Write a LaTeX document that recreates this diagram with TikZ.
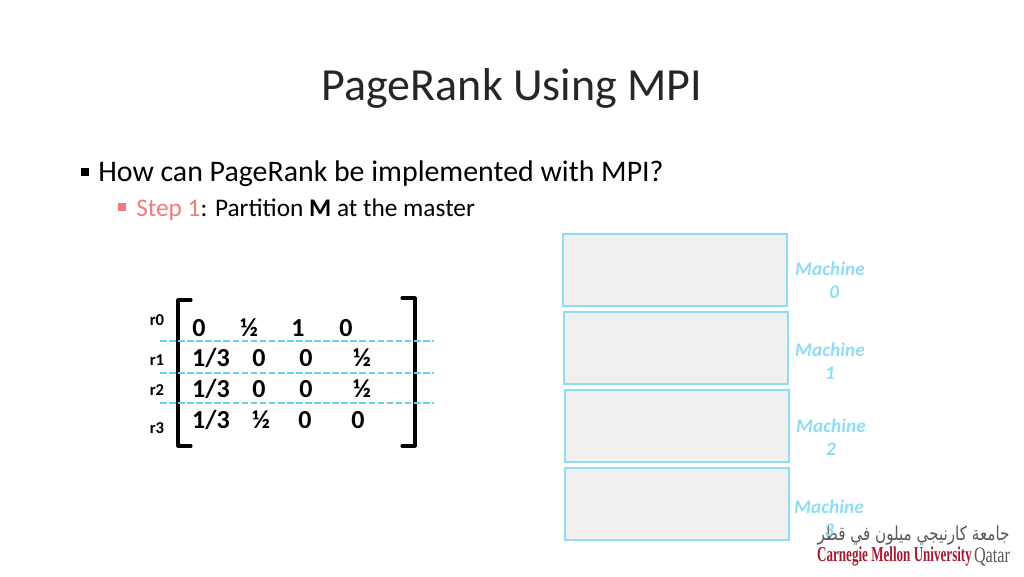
\documentclass[tikz,border=0pt]{standalone}
\usepackage{fontspec}
\setmainfont{Carlito}
\newfontfamily\logofont{Liberation Serif}
\newfontfamily\arabicfont[Script=Arabic]{DejaVu Sans}
\TeXXeTstate=1
\definecolor{skyline}{HTML}{8FDDF5}
\definecolor{dashsky}{HTML}{66D3F0}
\definecolor{boxgray}{HTML}{F0F0F0}
\definecolor{stepred}{HTML}{EE7B7F}
\definecolor{logored}{HTML}{A6192E}
\begin{document}
\begin{tikzpicture}[x=0.75pt,y=-0.75pt,
  txt/.style={inner sep=0pt,anchor=base west},
  entry/.style={inner sep=0pt,font=\fontsize{19.5}{19.5}\selectfont\bfseries},
  rowlab/.style={inner sep=0pt,font=\fontsize{12.5}{12.5}\selectfont\bfseries},
  machine/.style={draw=skyline,fill=boxgray,line width=0.9pt,minimum width=168pt,minimum height=54pt,inner sep=0pt},
  machlab/.style={inner sep=0pt,text=skyline,align=center,font=\fontsize{14.5}{17.3}\selectfont\bfseries\itshape},
  bracket/.style={line width=2.3pt,line cap=round,line join=round},
  cut/.style={dashsky,line width=1.6pt,dash pattern=on 5pt off 1.8pt}]
\useasboundingbox (0,0) rectangle (1024,576);
\node(title) at (512,88) [inner sep=0pt,text=black!85,font=\fontsize{34.5}{34.5}\selectfont] {PageRank Using MPI};
\node(b1) at (85,172) [fill=black,minimum size=6.4pt,inner sep=0pt] {};
\node(t1) at (98,181.5) [txt,font=\fontsize{22.4}{22.4}\selectfont] {How can PageRank be implemented with MPI?};
\node(b2) at (122,207) [fill=stepred,minimum size=6pt,inner sep=0pt] {};
\node(t2) at (136,216) [txt,font=\fontsize{19}{19}\selectfont] {\textcolor{stepred}{Step 1}: Partition \textbf{M} at the master};

\node(arab) at (913.5,536) [inner sep=0pt,text=black!65] {\resizebox{144pt}{11pt}{\arabicfont\beginR جامعة كارنيجي ميلون في قطر\endR}};
\node(cmu) at (894.5,556.5) [inner sep=0pt,text=logored] {\resizebox{116pt}{11pt}{\logofont\bfseries Carnegie Mellon University}};
\node(qatar) at (992,556.5) [inner sep=0pt,text=black!65] {\resizebox{27pt}{11pt}{\logofont Qatar}};

\node(m0) at (675,270) [machine] {};
\node(m1) at (676,348) [machine] {};
\node(m2) at (677,426) [machine] {};
\node(m3) at (677,504) [machine] {};
\node(l0) at (830,280) [machlab] {Machine\\\ \ 0};
\node(l1) at (830,361) [machlab] {Machine\\1};
\node(l2) at (831,437) [machlab] {Machine\\2};
\node(l3) at (829,518) [machlab] {Machine\\3};

\coordinate(la) at (191,300); \coordinate(lb) at (178,300); \coordinate(lc) at (178,446); \coordinate(ld) at (191,446);
\coordinate(ra) at (402,298); \coordinate(rb) at (415,298); \coordinate(rc) at (415,446); \coordinate(rd) at (402,446);
\draw[bracket] (la) -- (lb) -- (lc) -- (ld);
\draw[bracket] (ra) -- (rb) -- (rc) -- (rd);

\node(r0) at (157,320) [rowlab] {r0};
\node(r1) at (157,360) [rowlab] {r1};
\node(r2) at (157,390) [rowlab] {r2};
\node(r3) at (157,428) [rowlab] {r3};

\node(a00) at (199,328) [entry] {0}; \node(a01) at (249,328) [entry] {½}; \node(a02) at (298,328) [entry] {1}; \node(a03) at (346,328) [entry] {0};
\node(a10) at (211,358) [entry] {1/3}; \node(a11) at (259,358) [entry] {0}; \node(a12) at (306,358) [entry] {0}; \node(a13) at (362,358) [entry] {½};
\node(a20) at (211,389) [entry] {1/3}; \node(a21) at (259,389) [entry] {0}; \node(a22) at (306,389) [entry] {0}; \node(a23) at (362,389) [entry] {½};
\node(a30) at (211,420) [entry] {1/3}; \node(a31) at (261,420) [entry] {½}; \node(a32) at (305,420) [entry] {0}; \node(a33) at (358,420) [entry] {0};

\foreach \i/\y in {0/341,1/373,2/403}{
  \coordinate(s\i) at (160,\y); \coordinate(e\i) at (434,\y);
  \draw[cut] (s\i) -- (e\i);
}
\end{tikzpicture}
\end{document}
